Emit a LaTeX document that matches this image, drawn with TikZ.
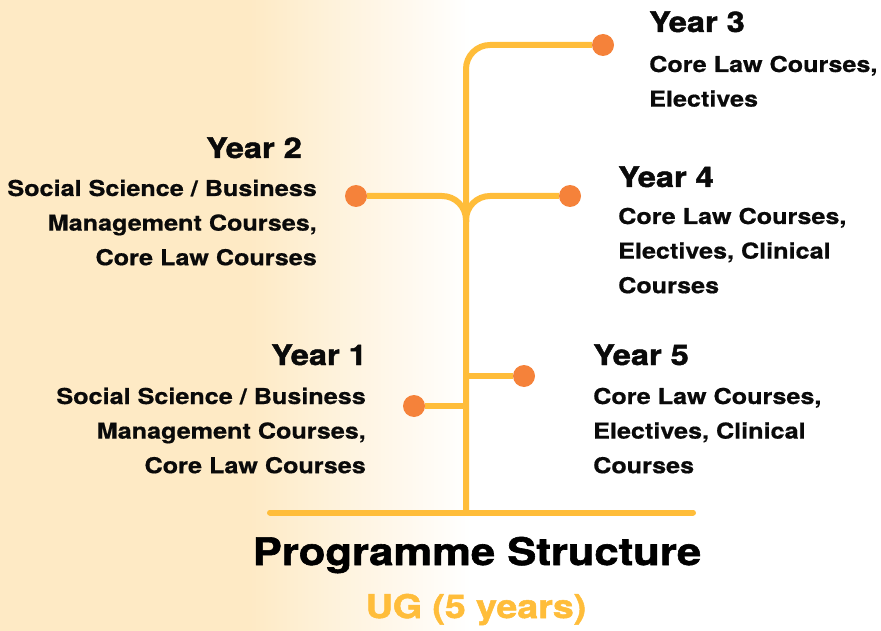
\documentclass[tikz,border=0pt]{standalone}
\usepackage{fontspec}
\setmainfont{TeX Gyre Heros}[FakeStretch=1.15]
\newfontfamily\bodyfont{TeX Gyre Heros}[FakeStretch=1.15,BoldFeatures={FakeBold=0.6}]
\newfontfamily\headfont{TeX Gyre Heros}[FakeStretch=1.15,BoldFeatures={FakeBold=1.6}]
\usetikzlibrary{backgrounds}
\definecolor{bgc}{HTML}{FEEAC5}
\definecolor{branchc}{HTML}{FFBD3A}
\definecolor{dotc}{HTML}{F5823A}
\definecolor{txtc}{HTML}{0A0A0A}
\begin{document}
\begin{tikzpicture}[x=1pt,y=-1pt,
  branch/.style={draw=branchc,line width=6pt},
  dotnode/.style={circle,fill=dotc,minimum size=22pt,inner sep=0pt},
  yearhead/.style={inner sep=0pt,text=txtc,font=\headfont\fontsize{28.3}{32}\selectfont\bfseries},
  yearbody/.style={inner sep=0pt,text=txtc,font=\bodyfont\fontsize{21.9}{34.6}\selectfont\bfseries},
  titletext/.style={inner sep=0pt,text=black,font=\headfont\fontsize{37.9}{44}\selectfont\bfseries},
  subtext/.style={inner sep=0pt,text=branchc,font=\headfont\fontsize{32.6}{38}\selectfont\bfseries}]
\useasboundingbox (0,0) rectangle (881,631);
% dots
\node[dotnode] (d3) at (603,45) {};
\node[dotnode] (d2) at (356,196) {};
\node[dotnode] (d4) at (570,196) {};
\node[dotnode] (d5) at (524,376) {};
\node[dotnode] (d1) at (414,406) {};
% tree coordinates
\coordinate (base) at (466,512);
\coordinate (fork) at (466,222);
\coordinate (j5) at (466,376);
\coordinate (j1) at (466,406);
\coordinate (gl) at (270,512.5);
\coordinate (gr) at (693,512.5);
\begin{scope}[on background layer]
  \fill[bgc] (0,0) rectangle (252,631);
  \shade[left color=bgc,right color=white] (250,0) rectangle (470,631);
  \draw[branch,line cap=round] (gl) -- (gr);
  \draw[branch,rounded corners=24pt] (base) |- (d3);
  \draw[branch,rounded corners=24pt] (fork) |- (d2);
  \draw[branch,rounded corners=24pt] (fork) |- (d4);
  \draw[branch] (j5) -- (d5);
  \draw[branch] (j1) -- (d1);
\end{scope}
% Year 3
\node[yearhead,anchor=base west] (h3) at (649,32) {Year 3};
\node[yearbody,anchor=base west] (b3) at (649,72) {\begin{tabular}[t]{@{}l@{}}Core Law Courses,\\Electives\end{tabular}};
% Year 2
\node[yearhead,anchor=base east] (h2) at (302,158) {Year 2};
\node[yearbody,anchor=base east] (b2) at (317,196) {\begin{tabular}[t]{@{}r@{}}Social Science / Business\\Management Courses,\\Core Law Courses\end{tabular}};
% Year 4
\node[yearhead,anchor=base west] (h4) at (618,187) {Year 4};
\node[yearbody,anchor=base west] (b4) at (618,224) {\begin{tabular}[t]{@{}l@{}}Core Law Courses,\\Electives, Clinical\\Courses\end{tabular}};
% Year 1
\node[yearhead,anchor=base east] (h1) at (367,365) {Year 1};
\node[yearbody,anchor=base east] (b1) at (366,404) {\begin{tabular}[t]{@{}r@{}}Social Science / Business\\Management Courses,\\Core Law Courses\end{tabular}};
% Year 5
\node[yearhead,anchor=base west] (h5) at (593,365) {Year 5};
\node[yearbody,anchor=base west] (b5) at (593,404) {\begin{tabular}[t]{@{}l@{}}Core Law Courses,\\Electives, Clinical\\Courses\end{tabular}};
% titles
\node[titletext,anchor=base] (title) at (477,565) {Programme Structure};
\node[subtext,anchor=base] (sub) at (476,618) {UG (5 years)};
\end{tikzpicture}
\end{document}
